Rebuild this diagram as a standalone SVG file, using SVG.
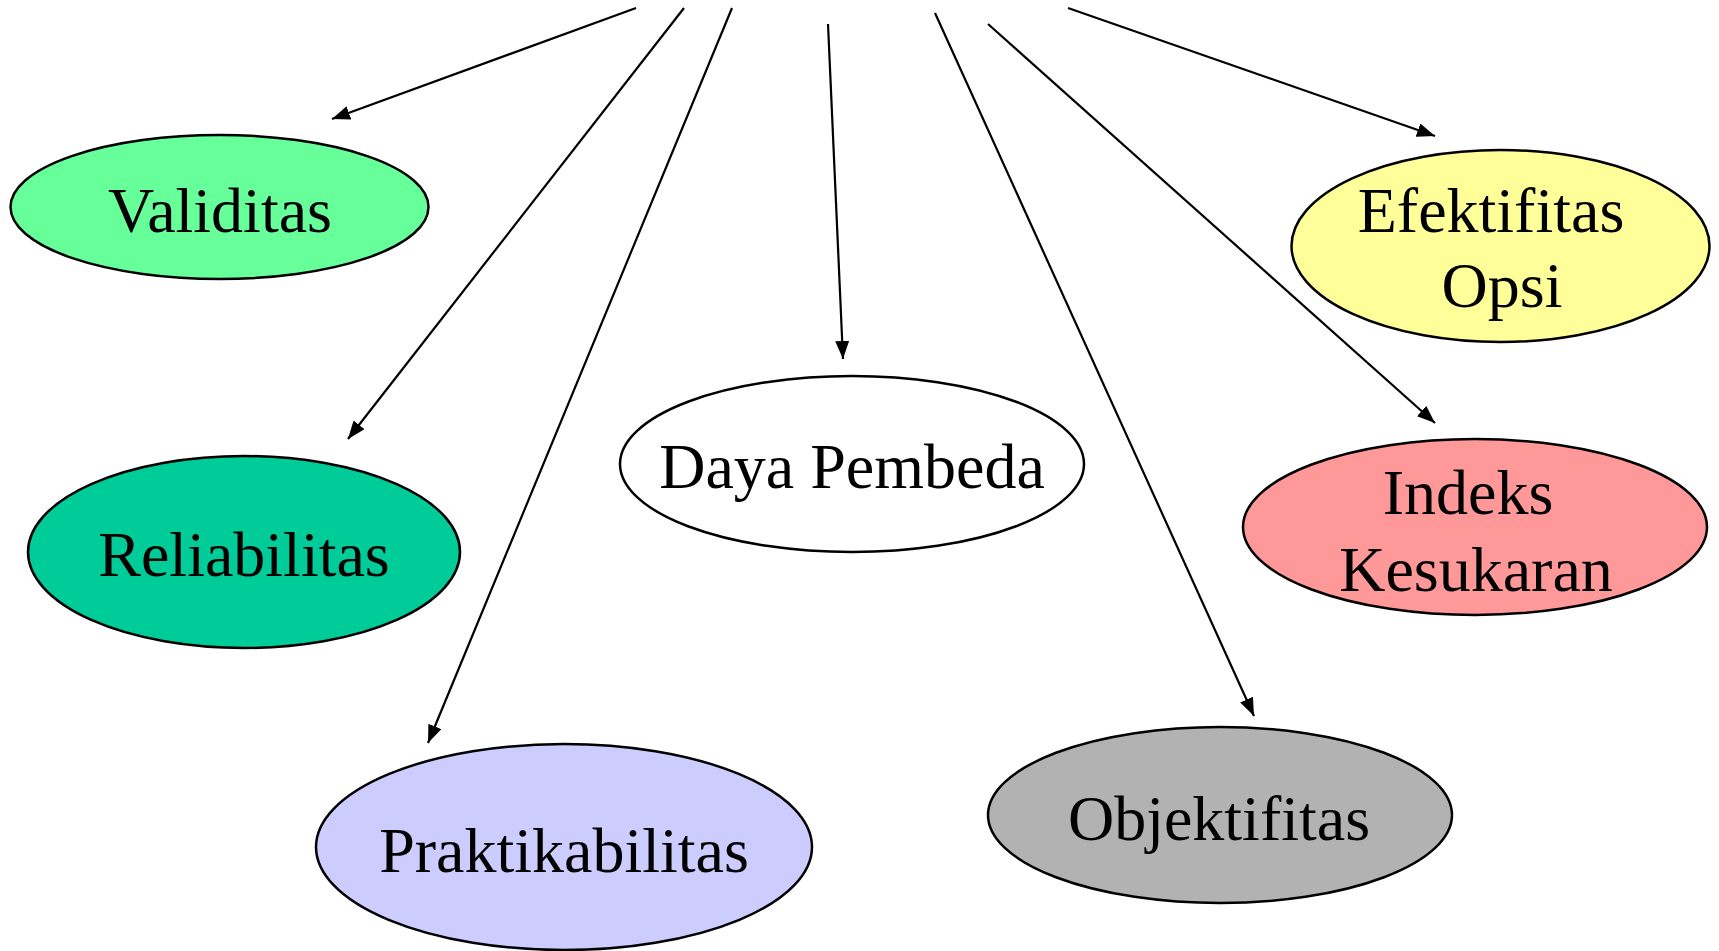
<svg xmlns="http://www.w3.org/2000/svg" width="1719" height="951" viewBox="0 0 1719 951">
<style>
.node ellipse{stroke:#000;stroke-width:2.5}
.node text{font-family:"Liberation Serif","Times New Roman",serif;font-size:64px;fill:#000;text-anchor:middle}
.conn line{stroke:#000;stroke-width:2.2;marker-end:url(#ah)}
</style>
<defs>
<marker id="ah" markerUnits="userSpaceOnUse" markerWidth="19" markerHeight="14" refX="18" refY="7" orient="auto">
<path d="M0,0 L18,7 L0,14 z" fill="#000"/>
</marker>
</defs>
<rect width="1719" height="951" fill="#fff"/>
<g id="connectors" class="conn">
<line x1="636" y1="8" x2="332" y2="119"/>
<line x1="684" y1="8" x2="348" y2="439"/>
<line x1="732" y1="8" x2="428" y2="743"/>
<line x1="828" y1="24" x2="843" y2="359"/>
<line x1="935" y1="13" x2="1254" y2="716"/>
<line x1="988" y1="24" x2="1435" y2="423"/>
<line x1="1068" y1="8" x2="1435" y2="136"/>
</g>
<g id="validitas" class="node">
<ellipse cx="219.5" cy="207" rx="209" ry="72" fill="#66FF99"/>
<text x="220" y="232">Validitas</text>
</g>
<g id="reliabilitas" class="node">
<ellipse cx="244" cy="552" rx="216" ry="96" fill="#00CC99"/>
<text x="244" y="576">Reliabilitas</text>
</g>
<g id="praktikabilitas" class="node">
<ellipse cx="564" cy="847" rx="248" ry="103" fill="#CCCCFF"/>
<text x="564" y="872">Praktikabilitas</text>
</g>
<g id="daya-pembeda" class="node">
<ellipse cx="852" cy="464" rx="232" ry="88" fill="#FFFFFF"/>
<text x="852" y="488">Daya Pembeda</text>
</g>
<g id="objektifitas" class="node">
<ellipse cx="1220" cy="815" rx="232" ry="88" fill="#B2B2B2"/>
<text x="1219" y="840">Objektifitas</text>
</g>
<g id="efektifitas-opsi" class="node">
<ellipse cx="1500.5" cy="246" rx="209" ry="96" fill="#FFFF99"/>
<text x="1491" y="232">Efektifitas</text>
<text x="1502" y="307">Opsi</text>
</g>
<g id="indeks-kesukaran" class="node">
<ellipse cx="1475" cy="527" rx="232" ry="88" fill="#FF9999"/>
<text x="1468" y="514">Indeks</text>
<text x="1476" y="591">Kesukaran</text>
</g>
</svg>
